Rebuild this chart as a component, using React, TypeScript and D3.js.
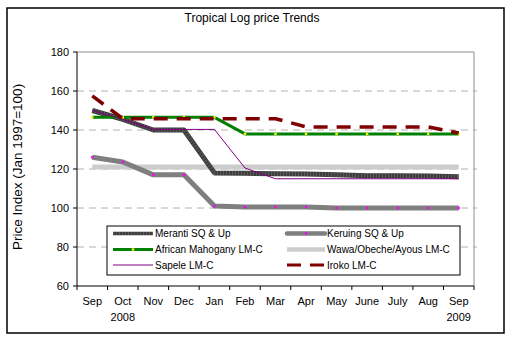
import React from "react";
import * as d3 from "d3";

const months = ["Sep", "Oct", "Nov", "Dec", "Jan", "Feb", "Mar", "Apr", "May", "June", "July", "Aug", "Sep"];
const yearLabels = [{ idx: 1, label: "2008" }, { idx: 12, label: "2009" }];
const yTicks = [60, 80, 100, 120, 140, 160, 180];

const meranti = [150, 145.5, 140, 140, 118, 117.8, 117.6, 117.4, 117, 116.6, 116.5, 116.4, 116];
const keruing = [126, 123.6, 117, 117, 101, 100.5, 100.5, 100.5, 100, 100, 100, 100, 100];
const mahogany = [146.5, 146.5, 146.5, 146.5, 146.5, 138, 138, 138, 138, 138, 138, 138, 138];
const wawa = [121, 121, 121, 121, 121, 121, 121, 121, 121, 121, 121, 121, 121];
const sapele = [150, 145.5, 140.3, 140.3, 140.3, 120.5, 115, 115, 115, 115, 115, 115, 115];
const iroko = [157.5, 145.8, 145.8, 145.8, 145.8, 145.8, 145.8, 141.6, 141.6, 141.6, 141.6, 141.6, 138.5];

const seriesNames = [
  "Meranti SQ & Up",
  "Keruing SQ & Up",
  "African Mahogany LM-C",
  "Wawa/Obeche/Ayous LM-C",
  "Sapele LM-C",
  "Iroko LM-C",
];

type Style = { color: string; width: number; legendWidth: number; dash?: string; marker?: string };
const styles: Record<string, Style> = {
  "Meranti SQ & Up": { color: "#3c3c3c", width: 5, legendWidth: 3.5 },
  "Keruing SQ & Up": { color: "#7f7f7f", width: 5, legendWidth: 4.5, marker: "#ff00ff" },
  "African Mahogany LM-C": { color: "#008000", width: 3, legendWidth: 3, marker: "#ffff00" },
  "Wawa/Obeche/Ayous LM-C": { color: "#cccccc", width: 5, legendWidth: 4.5 },
  "Sapele LM-C": { color: "#800080", width: 1, legendWidth: 1 },
  "Iroko LM-C": { color: "#800000", width: 3.5, legendWidth: 3, dash: "14,9" },
};

const dataByName: Record<string, number[]> = {
  "Meranti SQ & Up": meranti,
  "Keruing SQ & Up": keruing,
  "African Mahogany LM-C": mahogany,
  "Wawa/Obeche/Ayous LM-C": wawa,
  "Sapele LM-C": sapele,
  "Iroko LM-C": iroko,
};

const drawOrder = [
  "Wawa/Obeche/Ayous LM-C",
  "Keruing SQ & Up",
  "Meranti SQ & Up",
  "African Mahogany LM-C",
  "Sapele LM-C",
  "Iroko LM-C",
];

export default function App() {
  const W = 513, H = 341;
  const plot = { left: 77, right: 474, top: 52, bottom: 286 };
  const x = d3.scaleBand<string>().domain(months.map((_, i) => String(i))).range([plot.left, plot.right]);
  const cx = (i: number) => (x(String(i)) as number) + x.bandwidth() / 2;
  const y = d3.scaleLinear().domain([60, 180]).range([plot.bottom, plot.top]);
  const line = d3.line<number>().x((_, i) => cx(i)).y((d) => y(d));
  const font = "'Liberation Sans', Arial, sans-serif";

  const legend = { x: 107, y: 226, w: 353, h: 49 };
  const legendRows = [233.5, 249.5, 265];
  const legendCols = [{ lx1: 113, lx2: 153, tx: 155 }, { lx1: 287, lx2: 325, tx: 327 }];

  return (
    <svg width={W} height={H} style={{ position: "absolute", left: 0, top: 0, background: "#fff" }} fontFamily={font}>
      <rect x={0} y={0} width={W} height={H} fill="#fff" />
      <rect x={7} y={8} width={497} height={325} fill="#fff" stroke="#000" strokeWidth={1.5} />
      <text x={252} y={22} textAnchor="middle" fontSize={12}>Tropical Log price Trends</text>

      {/* grid */}
      {yTicks.filter((t) => t > 60 && t < 180).map((t) => (
        <line key={t} x1={plot.left} x2={plot.right + 3} y1={y(t)} y2={y(t)} stroke="#a0a0a0" strokeDasharray="7,5" strokeWidth={0.8} />
      ))}
      {/* plot border top/right */}
      <line x1={plot.left} x2={plot.right} y1={plot.top} y2={plot.top} stroke="#909090" strokeWidth={1} />
      <line x1={plot.right} x2={plot.right} y1={plot.top} y2={plot.bottom} stroke="#909090" strokeWidth={1} />

      {/* axes */}
      <line x1={plot.left} x2={plot.left} y1={plot.top} y2={plot.bottom} stroke="#000" strokeWidth={1} />
      <line x1={plot.left} x2={plot.right} y1={plot.bottom} y2={plot.bottom} stroke="#000" strokeWidth={1} />
      {yTicks.map((t) => (
        <g key={t}>
          <line x1={plot.left - 4} x2={plot.left} y1={y(t)} y2={y(t)} stroke="#000" />
          <text x={69} y={y(t) + 4} textAnchor="end" fontSize={11}>{t}</text>
        </g>
      ))}
      {d3.range(months.length + 1).map((i) => {
        const xx = plot.left + i * x.bandwidth();
        return <line key={i} x1={xx} x2={xx} y1={plot.bottom} y2={plot.bottom + 4} stroke="#000" />;
      })}
      {months.map((m, i) => (
        <text key={i} x={cx(i)} y={305} textAnchor="middle" fontSize={11}>{m}</text>
      ))}
      {yearLabels.map((yl) => (
        <text key={yl.label} x={cx(yl.idx)} y={321} textAnchor="middle" fontSize={11}>{yl.label}</text>
      ))}
      <text transform={`translate(22,167) rotate(-90)`} textAnchor="middle" fontSize={13.5}>
        Price Index (Jan 1997=100)
      </text>

      {/* series */}
      {drawOrder.map((name) => {
        const s = styles[name];
        const vals = dataByName[name];
        return (
          <g key={name}>
            <path d={line(vals) as string} fill="none" stroke={s.color} strokeWidth={s.width} strokeDasharray={s.dash} strokeLinejoin="round" />
            {name === "Meranti SQ & Up" && (
              <path d={line(vals) as string} fill="none" stroke="#777" strokeWidth={s.width - 1} strokeDasharray="1,2" opacity={0.6} />
            )}
            {s.marker && vals.map((v, i) => (
              <rect key={i} x={cx(i) - 1.2} y={y(v) - 1.2} width={2.4} height={2.4} fill={s.marker} />
            ))}
          </g>
        );
      })}

      {/* legend */}
      <rect x={legend.x} y={legend.y} width={legend.w} height={legend.h} fill="#fff" stroke="#000" strokeWidth={1} />
      {seriesNames.map((name, k) => {
        const s = styles[name];
        const col = legendCols[k % 2];
        const ry = legendRows[Math.floor(k / 2)];
        const mid = (col.lx1 + col.lx2) / 2;
        return (
          <g key={name}>
            <line x1={col.lx1} x2={col.lx2} y1={ry} y2={ry} stroke={s.color} strokeWidth={s.legendWidth} strokeDasharray={s.dash ? "14,9" : undefined} strokeLinecap={name === "Keruing SQ & Up" ? "round" : "butt"} />
            {name === "Meranti SQ & Up" && (
              <line x1={col.lx1} x2={col.lx2} y1={ry} y2={ry} stroke="#777" strokeWidth={s.legendWidth - 1} strokeDasharray="1,2" opacity={0.6} />
            )}
            {s.marker && <rect x={mid - 1.2} y={ry - 1.2} width={2.4} height={2.4} fill={s.marker} />}
            <text x={col.tx} y={ry + 3.5} fontSize={10}>{name}</text>
          </g>
        );
      })}
    </svg>
  );
}
